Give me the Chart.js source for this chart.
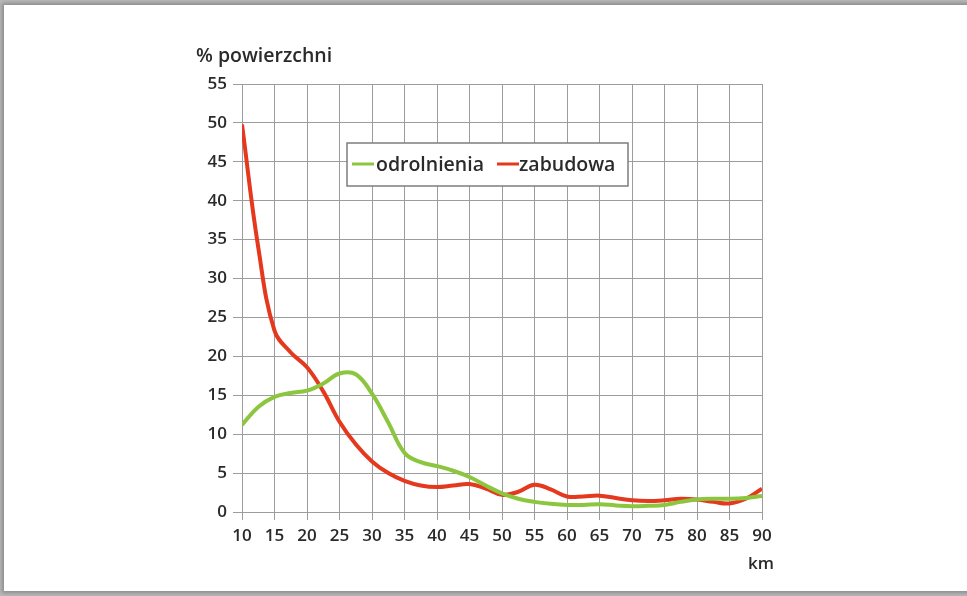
<!DOCTYPE html>
<html>
<head>
<meta charset="utf-8">
<script src="https://cdn.jsdelivr.net/npm/chart.js@4/dist/chart.umd.min.js"></script>
<style>
  html, body { margin: 0; padding: 0; }
  body { width: 967px; height: 596px; background: #b9b9b9; overflow: hidden; position: relative; }
  .card { position: absolute; left: 4px; top: 5px; width: 990px; height: 586px; background: #fff;
          box-shadow: 0 0 4px 2px rgba(0,0,0,0.25); }
  .wrap { position: absolute; left: 0; top: 0; width: 967px; height: 596px; }
</style>
</head>
<body>
<div class="card"></div>
<div class="wrap"><canvas id="myChart" width="967" height="596"></canvas></div>
<script>
// odleglosc od centrum (km)
const km = [10, 12.5, 15, 17.5, 20, 22.5, 25, 27.5, 30, 32.5, 35, 37.5, 40, 42.5, 45, 47.5, 50,
            52.5, 55, 57.5, 60, 62.5, 65, 67.5, 70, 72.5, 75, 77.5, 80, 82.5, 85, 87.5, 90];
// % powierzchni
const zabudowa = [49.8, 34, 23.3, 20.5, 18.6, 15.5, 11.6, 8.7, 6.5, 5.0, 4.0, 3.4, 3.2, 3.4, 3.6, 3.0, 2.2,
                  2.6, 3.5, 2.9, 2.0, 2.0, 2.1, 1.8, 1.5, 1.4, 1.5, 1.7, 1.6, 1.3, 1.1, 1.7, 3.0];
const odrolnienia = [11.2, 13.5, 14.8, 15.3, 15.6, 16.5, 17.8, 17.7, 15.2, 11.5, 7.6, 6.4, 5.9, 5.3, 4.5, 3.4, 2.4,
                     1.7, 1.3, 1.05, 0.9, 0.9, 1.0, 0.85, 0.75, 0.8, 0.9, 1.3, 1.6, 1.7, 1.7, 1.8, 2.05];
const seriesNames = ["odrolnienia", "zabudowa"];
const yTitle = "% powierzchni";
const xTitle = "km";

const green = "#8cc63e";
const red = "#e4391e";
const gridColor = "#9c9c9c";
const textColor = "#2a2a2a";
const fontFam = "'Open Sans', sans-serif";

function pts(vals) {
  return vals.map((v, i) => ({ x: km[i], y: v }));
}

// napisy i legenda rysowane recznie
const extras = {
  id: "extras",
  afterDraw(chart) {
    const ctx = chart.ctx;
    ctx.save();
    ctx.fillStyle = textColor;
    ctx.font = "600 19.5px " + fontFam;
    ctx.textBaseline = "alphabetic";
    ctx.textAlign = "left";
    ctx.fillText(yTitle, 196, 62);
    ctx.textAlign = "center";
    ctx.font = "600 17px " + fontFam;
    ctx.fillText(xTitle, 761, 569);

    // legenda
    ctx.fillStyle = "#fff";
    ctx.fillRect(347, 143, 281, 43);
    ctx.strokeStyle = "#7d7d7d";
    ctx.lineWidth = 1.5;
    ctx.strokeRect(347, 143, 281, 43);
    ctx.lineWidth = 3;
    ctx.strokeStyle = green;
    ctx.beginPath(); ctx.moveTo(352, 164); ctx.lineTo(374, 164); ctx.stroke();
    ctx.strokeStyle = red;
    ctx.beginPath(); ctx.moveTo(497, 164); ctx.lineTo(519, 164); ctx.stroke();
    ctx.fillStyle = textColor;
    ctx.textAlign = "left";
    ctx.font = "600 19.5px " + fontFam;
    ctx.fillText(seriesNames[0], 376, 171);
    ctx.fillText(seriesNames[1], 519, 171);
    ctx.restore();
  }
};

new Chart(document.getElementById("myChart"), {
  type: "line",
  data: {
    datasets: [
      { label: seriesNames[0], data: pts(odrolnienia), borderColor: green, borderWidth: 4,
        pointRadius: 0, tension: 0.4 },
      { label: seriesNames[1], data: pts(zabudowa), borderColor: red, borderWidth: 4,
        pointRadius: 0, tension: 0.4 }
    ]
  },
  options: {
    responsive: false,
    animation: false,
    layout: { padding: { left: 0, right: 205, top: 84, bottom: 0 } },
    plugins: { legend: { display: false }, tooltip: { enabled: false } },
    scales: {
      x: {
        type: "linear", min: 10, max: 90,
        ticks: { stepSize: 5, color: textColor, padding: 6, font: { family: fontFam, size: 17, weight: 600 } },
        grid: { color: gridColor, tickLength: 8 },
        border: { color: gridColor },
        afterFit(scale) { scale.height = 84; }
      },
      y: {
        min: 0, max: 55,
        ticks: { stepSize: 5, color: textColor, padding: 6, font: { family: fontFam, size: 17, weight: 600 } },
        grid: { color: gridColor, tickLength: 9 },
        border: { color: gridColor },
        afterFit(scale) { scale.width = 242; }
      }
    }
  },
  plugins: [extras]
});
</script>
</body>
</html>
